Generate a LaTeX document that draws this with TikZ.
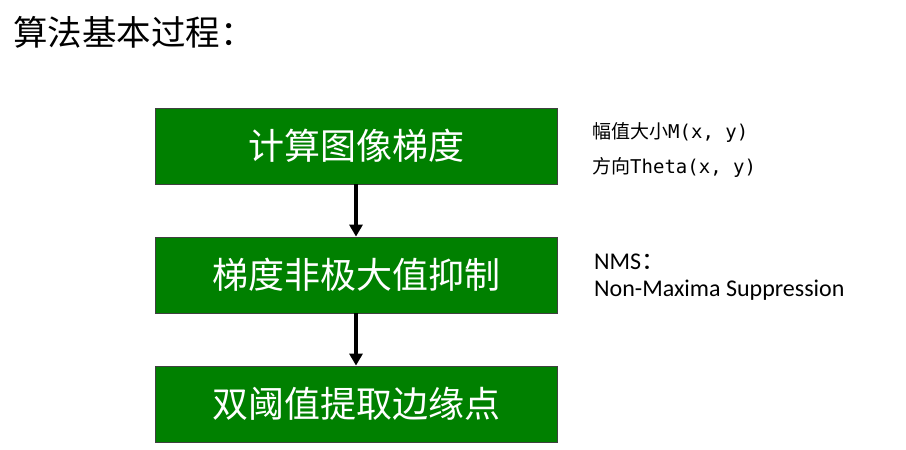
\documentclass[tikz,border=0pt]{standalone}
\usepackage{fontspec}
\setmainfont{Noto Sans CJK SC}
\newfontfamily\cjk{Noto Sans CJK SC}
\newfontfamily\latinf{Carlito}
\newfontfamily\monof{DejaVu Sans Mono}
\usetikzlibrary{arrows.meta}
\begin{document}
\begin{tikzpicture}[x=1pt,y=-1pt,
  stepbox/.style={draw=black!75,line width=0.8pt,fill=green!50!black,minimum width=402pt,minimum height=76pt,inner sep=0pt,
    text=white,font=\cjk\fontsize{36}{40}\selectfont},
  flow/.style={line width=3.6pt,-{Triangle[length=12pt,width=13pt]}},
  note/.style={anchor=west,inner sep=0pt,font=\cjk\fontsize{19}{22}\selectfont}]
\useasboundingbox (0,0) rectangle (906,450);
\node[anchor=west,inner sep=0pt,font=\cjk\fontsize{34.5}{40}\selectfont] (title) at (13,32) {算法基本过程：};
\node[stepbox] (b1) at (356,146) {计算图像梯度};
\node[stepbox] (b2) at (356,275) {梯度非极大值抑制};
\node[stepbox] (b3) at (356,404) {双阈值提取边缘点};
\draw[flow] (b1.south) -- (b2.north);
\draw[flow] (b2.south) -- (b3.north);
\node[note] (m) at (592,132) {幅值大小{\monof M(x, y)}};
\node[note] (t) at (592,167) {方向{\monof Theta(x, y)}};
\node[anchor=west,inner sep=0pt,font=\latinf\fontsize{24}{28}\selectfont] (nms) at (594,262) {NMS{\cjk ：}};
\node[anchor=west,inner sep=0pt,font=\latinf\fontsize{24}{28}\selectfont] (nmsf) at (594,290) {Non-Maxima Suppression};
\end{tikzpicture}
\end{document}
